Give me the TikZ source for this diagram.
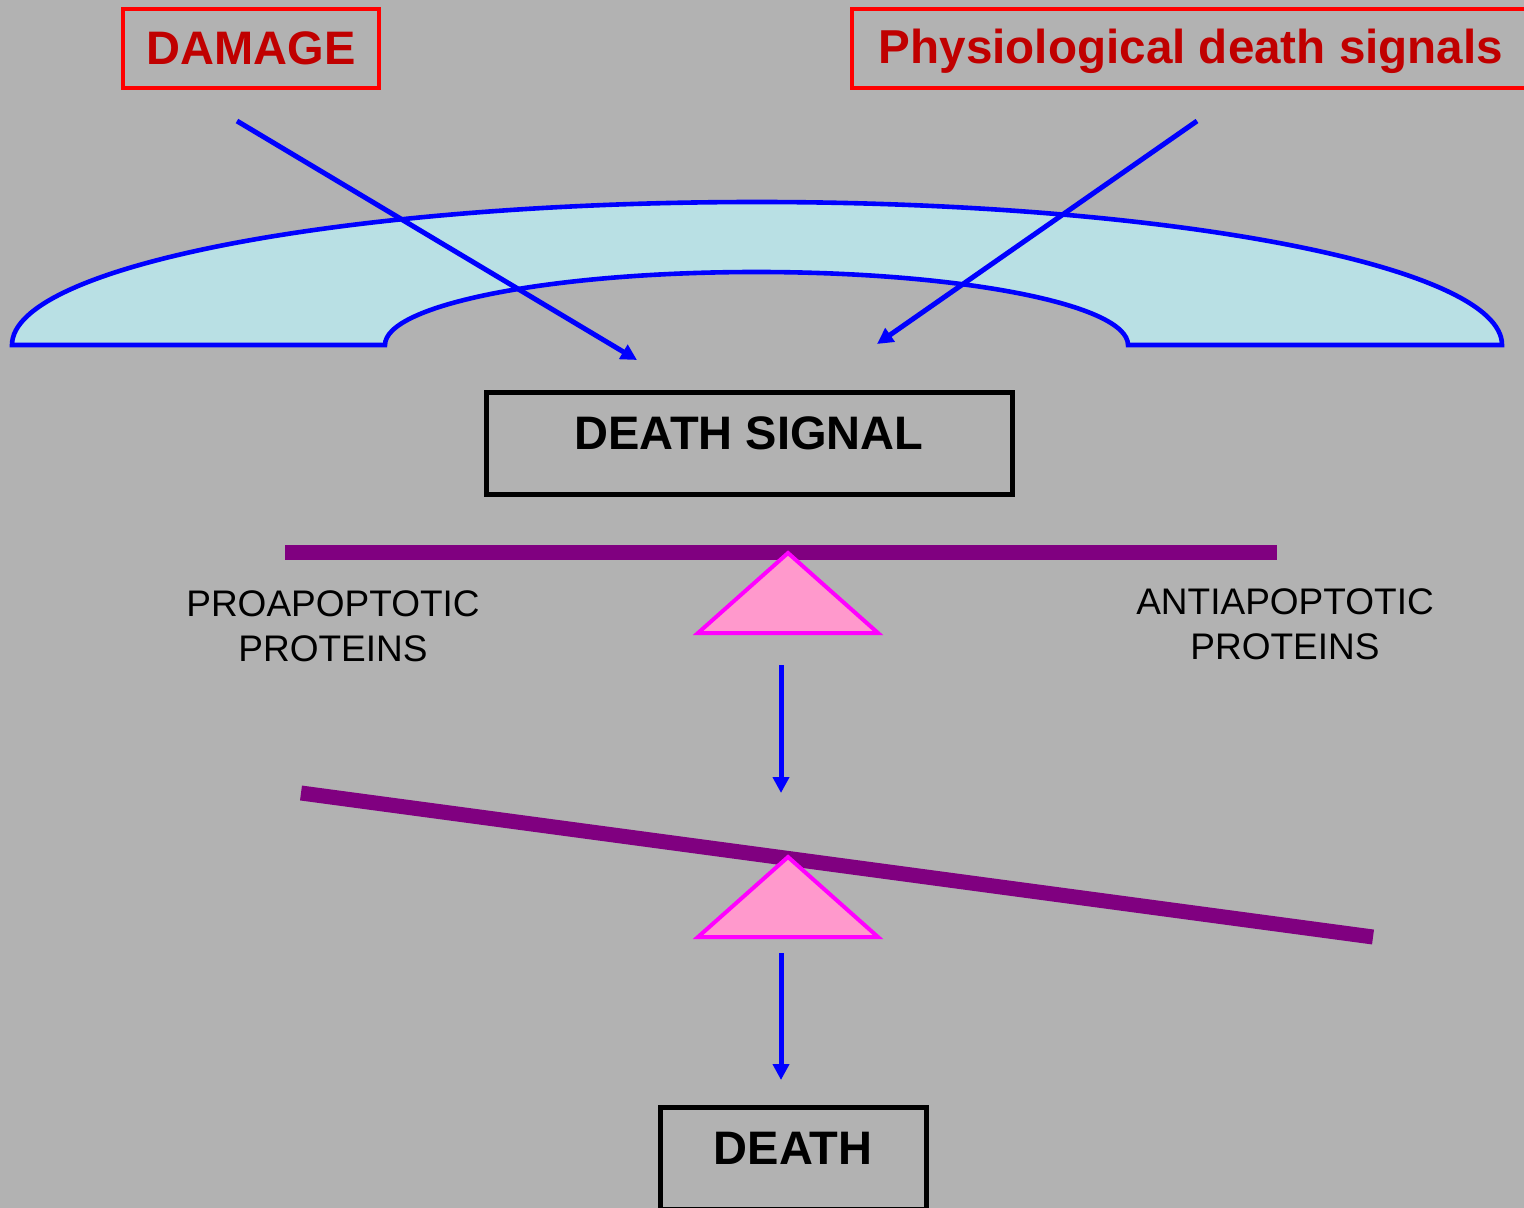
\documentclass[tikz,border=0pt]{standalone}
\usepackage{fontspec}
\setmainfont{Liberation Sans}
\usetikzlibrary{arrows.meta}
\definecolor{bggray}{RGB}{178,178,178}
\definecolor{memfill}{RGB}{185,224,228}
\definecolor{darkred}{RGB}{192,0,0}
\definecolor{brightred}{RGB}{255,0,0}
\definecolor{beamcol}{RGB}{128,0,128}
\definecolor{pinkfill}{RGB}{255,153,204}
\definecolor{triedge}{RGB}{255,0,255}
\definecolor{sigblue}{RGB}{0,0,255}
\begin{document}
\begin{tikzpicture}[x=0.5pt,y=0.5pt,
  redbox/.style={draw=brightred, line width=2pt, inner sep=0pt, text=darkred,
    font=\fontsize{23.5}{28}\selectfont\bfseries, minimum height=39.5pt},
  blackbox/.style={draw=black, line width=2.5pt, inner sep=0pt,
    font=\fontsize{23.5}{28}\selectfont\bfseries, minimum height=51pt,
    text height=17pt, text depth=11pt},
  membrane/.style={draw=sigblue, fill=memfill, line width=2.3pt},
  beam/.style={draw=beamcol, line width=7.5pt},
  fulcrum/.style={draw=triedge, fill=pinkfill, line width=2pt, line join=miter},
  sigarrow/.style={draw=sigblue, line width=2.5pt, -{Triangle[length=8pt,width=8pt]}},
  label/.style={font=\fontsize{18.5}{22.5}\selectfont, align=center, inner sep=0pt, anchor=north}
]
\clip (0,0) rectangle (1524,-1208);
\fill[bggray] (0,0) rectangle (1524,-1208);

% membrane
\draw[membrane] (12,-345) arc[start angle=180,end angle=0,x radius=372.5pt,y radius=71.5pt]
  -- (1128,-345) arc[start angle=0,end angle=180,x radius=185.75pt,y radius=36.5pt] -- cycle;

% top boxes
\node[redbox, minimum width=128pt] (damage) at (251,-48.5) {DAMAGE};
\node[redbox, minimum width=339pt, text height=17.5pt, text depth=2pt,
  font=\fontsize{23.8}{28}\selectfont\bfseries] (physio) at (1191,-48.5) {Physiological death signals};

% incoming signals
\coordinate (dmgstart) at (237,-121);
\coordinate (dmgend) at (637,-360);
\coordinate (phystart) at (1197,-121);
\coordinate (phyend) at (877,-344);
\draw[sigarrow] (dmgstart) -- (dmgend);
\draw[sigarrow] (phystart) -- (phyend);

% death signal box
\node[blackbox, minimum width=263pt] (dsignal) at (749,-443) {DEATH SIGNAL};

% balanced beam
\draw[beam] (285,-552.5) -- (1277,-552.5);
\draw[fulcrum] (788,-553) -- (878,-633) -- (698,-633) -- cycle;

\node[label] (pro) at (333,-590) {PROAPOPTOTIC\\PROTEINS};
\node[label] (anti) at (1285,-588) {ANTIAPOPTOTIC\\PROTEINS};

\coordinate (a1s) at (781,-665);
\coordinate (a1e) at (781,-793);
\draw[sigarrow] (a1s) -- (a1e);

% tilted beam
\draw[beam] (301,-793) -- (1373,-937);
\draw[fulcrum] (788,-857) -- (878,-937) -- (698,-937) -- cycle;

\coordinate (a2s) at (781,-953);
\coordinate (a2e) at (781,-1080);
\draw[sigarrow] (a2s) -- (a2e);

% death box
\node[blackbox, minimum width=133pt] (death) at (793,-1158) {DEATH};
\end{tikzpicture}
\end{document}
